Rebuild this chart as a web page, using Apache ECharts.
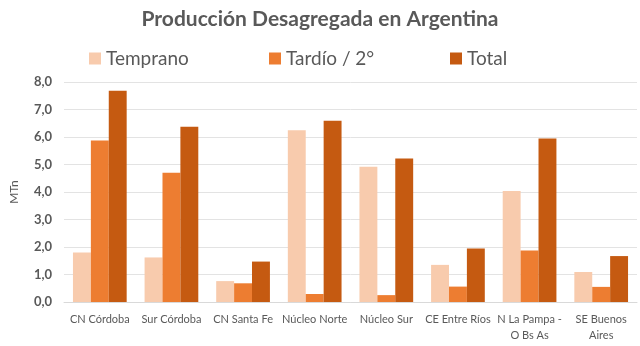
<!DOCTYPE html>
<html><head><meta charset="utf-8">
<script src="https://cdn.jsdelivr.net/npm/echarts@6/dist/echarts.min.js"></script>
<style>html,body{margin:0;padding:0;background:#fff}#c{width:640px;height:346px}</style>
</head><body><div id="c"></div>
<script>
const categories = ['CN Córdoba','Sur Córdoba','CN Santa Fe','Núcleo Norte','Núcleo Sur','CE Entre Ríos','N La Pampa -\nO Bs As','SE Buenos\nAires'];
const seriesNames = ['Temprano','Tardío / 2°','Total'];
const temprano = [1.8, 1.62, 0.76, 6.25, 4.92, 1.35, 4.04, 1.09];
const tardio = [5.87, 4.70, 0.68, 0.29, 0.25, 0.56, 1.87, 0.55];
const total = [7.68, 6.37, 1.47, 6.59, 5.22, 1.95, 5.95, 1.67];
const colors = ['#F8CBAD','#ED7D31','#C55A11'];
const font = 'Lato, "Open Sans", sans-serif';
const chart = echarts.init(document.getElementById('c'));
const legendLefts = [84, 264, 445];
chart.setOption({
  animation:false,
  title:{text:'Producción Desagregada en Argentina',left:'center',top:4,
    textStyle:{fontFamily:font,fontSize:21,fontWeight:'bold',color:'#595959'}},
  legend: seriesNames.map((n,i)=>({data:[n],left:legendLefts[i],top:44,icon:'rect',itemWidth:12,itemHeight:12,itemGap:6,
    textStyle:{fontFamily:font,fontSize:19,color:'#595959'}})),
  grid:{left:60,right:3,top:82,bottom:44},
  xAxis:{type:'category',data:categories,
    axisLine:{lineStyle:{color:'#d9d9d9'}},axisTick:{show:false},
    axisLabel:{interval:0,fontFamily:font,fontSize:11,color:'#595959',margin:9,lineHeight:16}},
  yAxis:{type:'value',min:0,max:8,interval:1,name:'MTn',nameLocation:'middle',nameGap:44,
    nameTextStyle:{fontFamily:font,fontSize:12,color:'#595959'},
    axisLabel:{fontFamily:font,fontSize:13,fontWeight:'bold',color:'#595959',margin:12,
      formatter:v=>v.toFixed(1).replace('.',',')},
    splitLine:{lineStyle:{color:'#e3e3e3'}}},
  series:[temprano,tardio,total].map((d,i)=>({name:seriesNames[i],type:'bar',data:d,
    itemStyle:{color:colors[i]},barGap:'0%',barCategoryGap:'25%'}))
});
</script></body></html>
